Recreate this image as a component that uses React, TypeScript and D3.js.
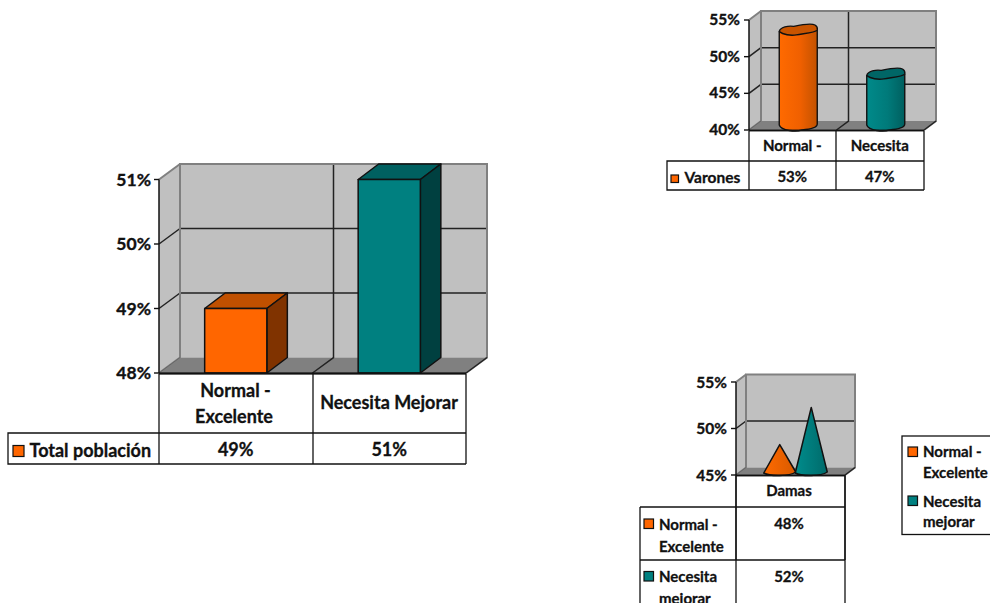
import React from "react";
import * as d3 from "d3";

const FONT = "Lato, Carlito, 'Open Sans', sans-serif";
const ORANGE = "#ff6600";
const TEAL = "#008080";
const INK = "#111";

const totalCategories = ["Normal - Excelente", "Necesita Mejorar"];
const totalValues = [49, 51];
const totalTicks = [48, 49, 50, 51];

const menCategories = ["Normal -", "Necesita"];
const menValues = [53, 47];
const menTicks = [40, 45, 50, 55];

const womenSeries = ["Normal - Excelente", "Necesita mejorar"];
const womenValues = [48, 52];
const womenTicks = [45, 50, 55];

type Y = d3.ScaleLinear<number, number>;

// Grey walls, floor, gridlines and value axis of an Excel-style 3-D plot.
function Frame({ x0, x1, y, ticks, dx, dy, dividers, size, labelX, labelDy }: {
  x0: number; x1: number; y: Y; ticks: number[]; dx: number; dy: number;
  dividers: number[]; size: number; labelX: number; labelDy: number;
}) {
  const base = y(ticks[0]);
  const top = y(ticks[ticks.length - 1]);
  const pts = (p: number[][]) => p.map((q) => q.join(",")).join(" ");
  return (
    <g>
      <polygon points={pts([[x0 + dx, top + dy], [x1 + dx, top + dy], [x1 + dx, base + dy], [x0 + dx, base + dy]])} fill="#c0c0c0" />
      <polygon points={pts([[x0, top], [x0 + dx, top + dy], [x0 + dx, base + dy], [x0, base]])} fill="#c0c0c0" />
      <polygon points={pts([[x0, base], [x0 + dx, base + dy], [x1 + dx, base + dy], [x1, base]])} fill="#808080" />
      {ticks.slice(1, -1).map((t) => (
        <g key={t} stroke="#222" strokeWidth={1.5} fill="none">
          <line x1={x0 + dx} x2={x1 + dx} y1={y(t) + dy} y2={y(t) + dy} />
          <line x1={x0} x2={x0 + dx} y1={y(t)} y2={y(t) + dy} />
        </g>
      ))}
      {dividers.map((d) => (
        <polyline key={d} points={pts([[d, base], [d + dx, base + dy], [d + dx, top + dy]])} fill="none" stroke="#222" strokeWidth={1.5} />
      ))}
      <polyline points={pts([[x0, base], [x0 + dx, base + dy], [x0 + dx, top + dy], [x1 + dx, top + dy], [x1 + dx, base + dy], [x1, base]])} fill="none" stroke="#808080" strokeWidth={2} />
      <line x1={x0} x2={x0 + dx} y1={top} y2={top + dy} stroke="#808080" strokeWidth={2} />
      <line x1={x0} x2={x0 + dx} y1={base} y2={base + dy} stroke="#666" strokeWidth={1} />
      <line x1={x1} x2={x1 + dx} y1={base} y2={base + dy} stroke="#222" strokeWidth={1.4} />
      <line x1={x0} x2={x0} y1={top} y2={base} stroke={INK} strokeWidth={1.5} />
      {ticks.map((t) => (
        <g key={t}>
          <line x1={x0 - 5} x2={x0} y1={y(t)} y2={y(t)} stroke={INK} strokeWidth={1.4} />
          <text x={labelX} y={y(t) + labelDy} textAnchor="end" fontSize={size} fontWeight={700} fill={INK} stroke={INK} strokeWidth={0.35}>{t}%</text>
        </g>
      ))}
    </g>
  );
}

function Box({ x, y: yy, w, h, d, front, topFill, side }: {
  x: number; y: number; w: number; h: number; d: number[]; front: string; topFill: string; side: string;
}) {
  const [dx, dy] = d;
  const pts = (p: number[][]) => p.map((q) => q.join(",")).join(" ");
  return (
    <g stroke={INK} strokeWidth={1.5} strokeLinejoin="round">
      <polygon points={pts([[x, yy], [x + dx, yy + dy], [x + w + dx, yy + dy], [x + w, yy]])} fill={topFill} />
      <polygon points={pts([[x + w, yy], [x + w + dx, yy + dy], [x + w + dx, yy + h + dy], [x + w, yy + h]])} fill={side} />
      <rect x={x} y={yy} width={w} height={h} fill={front} />
    </g>
  );
}

// Cylinder whose coarse tessellation gives the caps a slightly wavy rim.
function Cylinder({ cx, w, topY, baseY, ry, body, cap }: {
  cx: number; w: number; topY: number; baseY: number; ry: number; body: string; cap: string;
}) {
  const l = cx - w / 2, r = cx + w / 2;
  const rim = `M${l},${topY + 2} C${l + w * 0.02},${topY - ry * 0.5} ${l + w * 0.25},${topY - ry * 0.75} ${l + w * 0.38},${topY - ry * 0.6} ` +
    `C${l + w * 0.55},${topY - ry * 0.85} ${r - w * 0.15},${topY - ry * 1.2} ${r - w * 0.06},${topY - ry * 0.85} C${r + 1},${topY - ry * 0.5} ${r},${topY} ${r},${topY + 0.5}`;
  const lower = `C${r - w * 0.06},${topY + ry * 0.6} ${l + w * 0.62},${topY + ry * 0.7} ${l + w * 0.45},${topY + ry * 0.95} C${l + w * 0.3},${topY + ry * 1.15} ${l + w * 0.1},${topY + ry * 0.9} ${l},${topY + 2}Z`;
  const sidePath = `M${l},${topY + 2} L${l},${baseY - 1} C${l + w * 0.05},${baseY + ry * 0.9} ${l + w * 0.45},${baseY + ry * 1.1} ${l + w * 0.6},${baseY + ry * 0.7} C${l + w * 0.8},${baseY + ry * 0.6} ${r},${baseY + ry * 0.4} ${r},${baseY - 2} L${r},${topY + 0.5} Z`;
  return (
    <g stroke={INK} strokeWidth={1.4} strokeLinejoin="round">
      <path d={sidePath} fill={body} />
      <path d={rim + " " + lower} fill={cap} />
    </g>
  );
}

function Cone({ cx, halfW, apex, baseY, fill }: { cx: number; halfW: number; apex: number; baseY: number; fill: string }) {
  const l = cx - halfW, r = cx + halfW;
  return (
    <path d={`M${cx},${apex} L${l},${baseY} C${l + halfW * 0.4},${baseY + 3.5} ${r - halfW * 0.4},${baseY + 3.5} ${r},${baseY - 1} Z`} fill={fill} stroke={INK} strokeWidth={1.5} strokeLinejoin="round" />
  );
}

function Grid({ xs, ys }: { xs: number[]; ys: number[] }) {
  const xa = d3.extent(xs) as number[];
  const ya = d3.extent(ys) as number[];
  return (
    <g stroke={INK} strokeWidth={1.3}>
      {xs.map((x) => <line key={"v" + x} x1={x} x2={x} y1={ya[0]} y2={ya[1]} />)}
      {ys.map((y) => <line key={"h" + y} x1={xa[0]} x2={xa[1]} y1={y} y2={y} />)}
    </g>
  );
}

function Swatch({ x, y, s, fill }: { x: number; y: number; s: number; fill: string }) {
  return <rect x={x} y={y} width={s} height={s} fill={fill} stroke={INK} strokeWidth={1.2} />;
}

function Label({ x, y, size, anchor, children }: { x: number; y: number; size: number; anchor?: string; children: React.ReactNode }) {
  return <text x={x} y={y} fontSize={size} fontWeight={700} fill={INK} stroke={INK} strokeWidth={0.3} textAnchor={anchor ?? "middle"}>{children}</text>;
}

export default function App() {
  // Whole population: square columns
  const y1 = d3.scaleLinear().domain([48, 51]).range([373, 179.5]);
  const x1 = d3.scaleBand().domain(totalCategories).range([159, 466]);
  const barW1 = x1.bandwidth() * 0.405;

  // Men: cylinders
  const y2 = d3.scaleLinear().domain([40, 55]).range([130, 20]);
  const x2 = d3.scaleBand().domain(menCategories).range([749, 924]);

  // Women: cones, clustered within one category
  const y3 = d3.scaleLinear().domain([45, 55]).range([475, 382]);
  const x3 = d3.scaleBand().domain(womenSeries).range([764, 827]);

  const fills1 = [[ORANGE, "#c05000", "#803300"], [TEAL, "#006060", "#004040"]];

  return (
    <svg width={990} height={603} viewBox="0 0 990 603" style={{ position: "absolute", left: 0, top: 0, background: "#fff", fontFamily: FONT }}>
      <defs>
        <linearGradient id="cylO"><stop offset="0" stopColor="#ff6a00" /><stop offset="0.55" stopColor="#f06000" /><stop offset="1" stopColor="#c25200" /></linearGradient>
        <linearGradient id="cylT"><stop offset="0" stopColor="#008a8a" /><stop offset="0.55" stopColor="#007a7a" /><stop offset="1" stopColor="#005f5f" /></linearGradient>
        <linearGradient id="coneO"><stop offset="0" stopColor="#ff6a00" /><stop offset="1" stopColor="#d85a00" /></linearGradient>
        <linearGradient id="coneT"><stop offset="0" stopColor="#008c8c" /><stop offset="1" stopColor="#006a6a" /></linearGradient>
      </defs>

      <Frame x0={159} x1={466} y={y1} ticks={totalTicks} dx={21} dy={-15.5} dividers={[x1(totalCategories[1])!]} size={17.5} labelX={151} labelDy={6} />
      {totalCategories.map((c, i) => {
        const cx = x1(c)! + x1.bandwidth() / 2;
        return (
          <Box key={c} x={cx - barW1 / 2} y={y1(totalValues[i])} w={barW1} h={y1(48) - y1(totalValues[i])} d={[20.5, -15.5]} front={fills1[i][0]} topFill={fills1[i][1]} side={fills1[i][2]} />
        );
      })}
      <line x1={159} x2={466} y1={373.5} y2={373.5} stroke={INK} strokeWidth={1.8} />
      <Grid xs={[159, 313, 466]} ys={[373.5, 433, 464]} />
      <polyline points="159,433 8,433 8,464 159,464" fill="none" stroke={INK} strokeWidth={1.3} />
      <Swatch x={13} y={445.5} s={11} fill={ORANGE} />
      <Label x={29.5} y={457} size={18} anchor="start">Total población</Label>
      <Label x={235.5} y={397} size={18}>Normal -</Label>
      <Label x={234} y={423} size={18}>Excelente</Label>
      <Label x={389} y={409} size={18}>{totalCategories[1]}</Label>
      {totalValues.map((v, i) => (
        <Label key={i} x={x1(totalCategories[i])! + x1.bandwidth() / 2} y={456} size={18}>{v}%</Label>
      ))}

      <Frame x0={749} x1={924} y={y2} ticks={menTicks} dx={12} dy={-9} dividers={[x2(menCategories[1])!]} size={15.5} labelX={740} labelDy={5} />
      {menCategories.map((c, i) => (
        <Cylinder key={c} cx={x2(c)! + x2.bandwidth() / 2 + 5.5} w={38} topY={y2(menValues[i]) - 5} baseY={y2(40) - 4} ry={5.5} body={i ? "url(#cylT)" : "url(#cylO)"} cap={i ? "#006666" : "#c85400"} />
      ))}
      <line x1={749} x2={924} y1={130.5} y2={130.5} stroke={INK} strokeWidth={1.6} />
      <Grid xs={[749, 836, 924]} ys={[130.5, 161, 190]} />
      <polyline points="749,161 667,161 667,190 749,190" fill="none" stroke={INK} strokeWidth={1.3} />
      <Swatch x={671} y={175} s={7.5} fill={ORANGE} />
      <Label x={684.5} y={183} size={15.5} anchor="start">Varones</Label>
      {menCategories.map((c, i) => {
        const cx = x2(c)! + x2.bandwidth() / 2 - 0.5;
        return (
          <g key={c}>
            <Label x={cx} y={151} size={15}>{c}</Label>
            <Label x={cx} y={182} size={15}>{menValues[i]}%</Label>
          </g>
        );
      })}

      <Frame x0={736} x1={845} y={y3} ticks={womenTicks} dx={10} dy={-7.5} dividers={[]} size={15.5} labelX={727} labelDy={5.5} />
      {womenSeries.map((s, i) => (
        <Cone key={s} cx={x3(s)! + x3.bandwidth() / 2} halfW={16} apex={y3(womenValues[i]) - 2.5} baseY={473} fill={i ? "url(#coneT)" : "url(#coneO)"} />
      ))}
      <line x1={736} x2={845} y1={475.5} y2={475.5} stroke={INK} strokeWidth={1.6} />
      <Grid xs={[736, 845]} ys={[475.5, 507, 560]} />
      <line x1={736} x2={736} y1={475} y2={603} stroke={INK} strokeWidth={1.3} />
      <line x1={845} x2={845} y1={475} y2={603} stroke={INK} strokeWidth={1.3} />
      <line x1={640} x2={640} y1={507} y2={603} stroke={INK} strokeWidth={1.3} />
      <line x1={640} x2={736} y1={507} y2={507} stroke={INK} strokeWidth={1.3} />
      <line x1={640} x2={736} y1={560} y2={560} stroke={INK} strokeWidth={1.3} />
      <Label x={789} y={495.5} size={15}>Damas</Label>
      <Swatch x={644} y={519} s={9.5} fill={ORANGE} />
      <Label x={659} y={530} size={15} anchor="start">Normal -</Label>
      <Label x={659} y={552} size={15} anchor="start">Excelente</Label>
      <Label x={789} y={529} size={15}>{womenValues[0]}%</Label>
      <Swatch x={644} y={571.5} s={9.5} fill={TEAL} />
      <Label x={659} y={582} size={15} anchor="start">Necesita</Label>
      <Label x={659} y={603.5} size={15} anchor="start">mejorar</Label>
      <Label x={789} y={582} size={15}>{womenValues[1]}%</Label>

      <rect x={902} y={436} width={100} height={98.5} fill="#fff" stroke={INK} strokeWidth={1.3} />
      <Swatch x={908} y={447} s={9.5} fill={ORANGE} />
      <Label x={923} y={457} size={15} anchor="start">Normal -</Label>
      <Label x={923} y={478} size={15} anchor="start">Excelente</Label>
      <Swatch x={908} y={496} s={9.5} fill={TEAL} />
      <Label x={923} y={507} size={15} anchor="start">Necesita</Label>
      <Label x={923} y={527} size={15} anchor="start">mejorar</Label>
    </svg>
  );
}
